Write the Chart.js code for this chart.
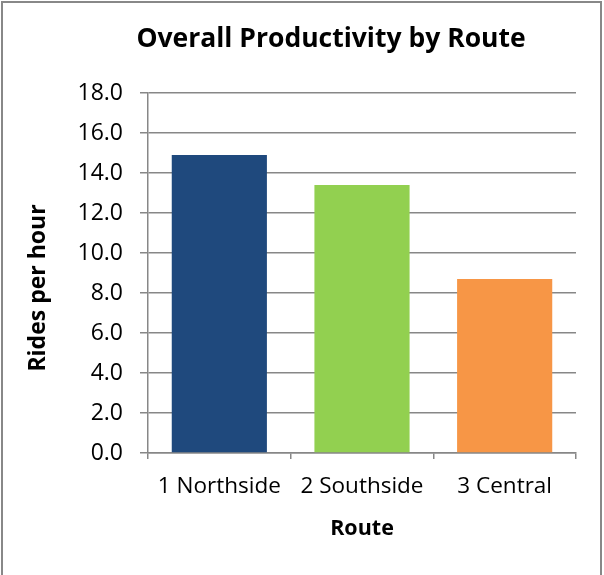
<!DOCTYPE html>
<html>
<head>
<meta charset="utf-8">
<script src="https://cdn.jsdelivr.net/npm/chart.js@4.4.1/dist/chart.umd.min.js"></script>
<style>
  html, body { margin: 0; padding: 0; background: #fff; overflow: hidden; }
  #wrap { width: 604px; height: 575px; position: relative; }
</style>
</head>
<body>
<div id="wrap"><canvas id="c" width="604" height="575"></canvas></div>
<script>
// Route productivity (rides per hour)
const routes = ['1 Northside', '2 Southside', '3 Central'];
const ridesPerHour = [14.9, 13.4, 8.7];
const barColors = ['#1F497D', '#92D050', '#F79646'];

const chartTitle = 'Overall Productivity by Route';
const xAxisTitle = 'Route';
const yAxisTitle = 'Rides per hour';
const yMin = 0, yMax = 18, yStep = 2;

const FONT = '"Open Sans", Lato, "DejaVu Sans", sans-serif';
const GRID = '#878787';

// Outer frame, chart heading and rotated y-axis caption
const framePlugin = {
  id: 'frame',
  beforeDraw(chart) {
    const ctx = chart.ctx;
    ctx.save();
    ctx.fillStyle = '#ffffff';
    ctx.fillRect(0, 0, chart.width, chart.height);
    ctx.restore();
  },
  afterDraw(chart) {
    const ctx = chart.ctx;
    ctx.save();
    ctx.strokeStyle = '#888888';
    ctx.lineWidth = 2;
    ctx.beginPath();
    ctx.moveTo(2, chart.height + 5);
    ctx.lineTo(2, 2);
    ctx.lineTo(601, 2);
    ctx.lineTo(601, chart.height + 5);
    ctx.stroke();

    ctx.fillStyle = '#000';
    ctx.font = 'bold 26.5px ' + FONT;
    ctx.textAlign = 'center';
    ctx.textBaseline = 'middle';
    ctx.fillText(chartTitle, 331, 39);

    const area = chart.chartArea;
    ctx.translate(38, (area.top + area.bottom) / 2 + 15);
    ctx.rotate(-Math.PI / 2);
    ctx.font = 'bold 23px ' + FONT;
    ctx.fillText(yAxisTitle, 0, 0);
    ctx.restore();
  }
};

new Chart(document.getElementById('c'), {
  type: 'bar',
  data: {
    labels: routes,
    datasets: [{
      data: ridesPerHour,
      backgroundColor: barColors,
      borderWidth: 0,
      categoryPercentage: 1.0,
      barPercentage: 0.667
    }]
  },
  options: {
    responsive: false,
    animation: false,
    devicePixelRatio: 1,
    layout: { padding: { left: 0, right: 28, top: 93, bottom: 33 } },
    plugins: {
      legend: { display: false },
      tooltip: { enabled: false },
      title: { display: false }
    },
    scales: {
      x: {
        grid: {
          display: true,
          drawOnChartArea: false,
          drawTicks: true,
          tickLength: 6,
          offset: true,
          color: GRID,
          lineWidth: 1.5
        },
        border: { display: true, color: GRID, width: 1.5 },
        ticks: {
          color: '#000',
          font: { family: FONT, size: 22.5 },
          padding: 14,
          maxRotation: 0
        },
        title: {
          display: true,
          text: xAxisTitle,
          color: '#000',
          font: { family: FONT, size: 21.5, weight: 'bold' },
          padding: { top: 8, bottom: 0 }
        },
        afterFit(scale) { scale.height = 89; }
      },
      y: {
        min: yMin,
        max: yMax,
        grid: {
          color: GRID,
          lineWidth: 1.5,
          tickLength: 8
        },
        border: { display: true, color: GRID, width: 1.5 },
        ticks: {
          stepSize: yStep,
          color: '#000',
          font: { family: FONT, size: 23 },
          padding: 17,
          callback: v => Number(v).toFixed(1)
        },
        afterFit(scale) { scale.width = 148; }
      }
    }
  },
  plugins: [framePlugin]
});
</script>
</body>
</html>
